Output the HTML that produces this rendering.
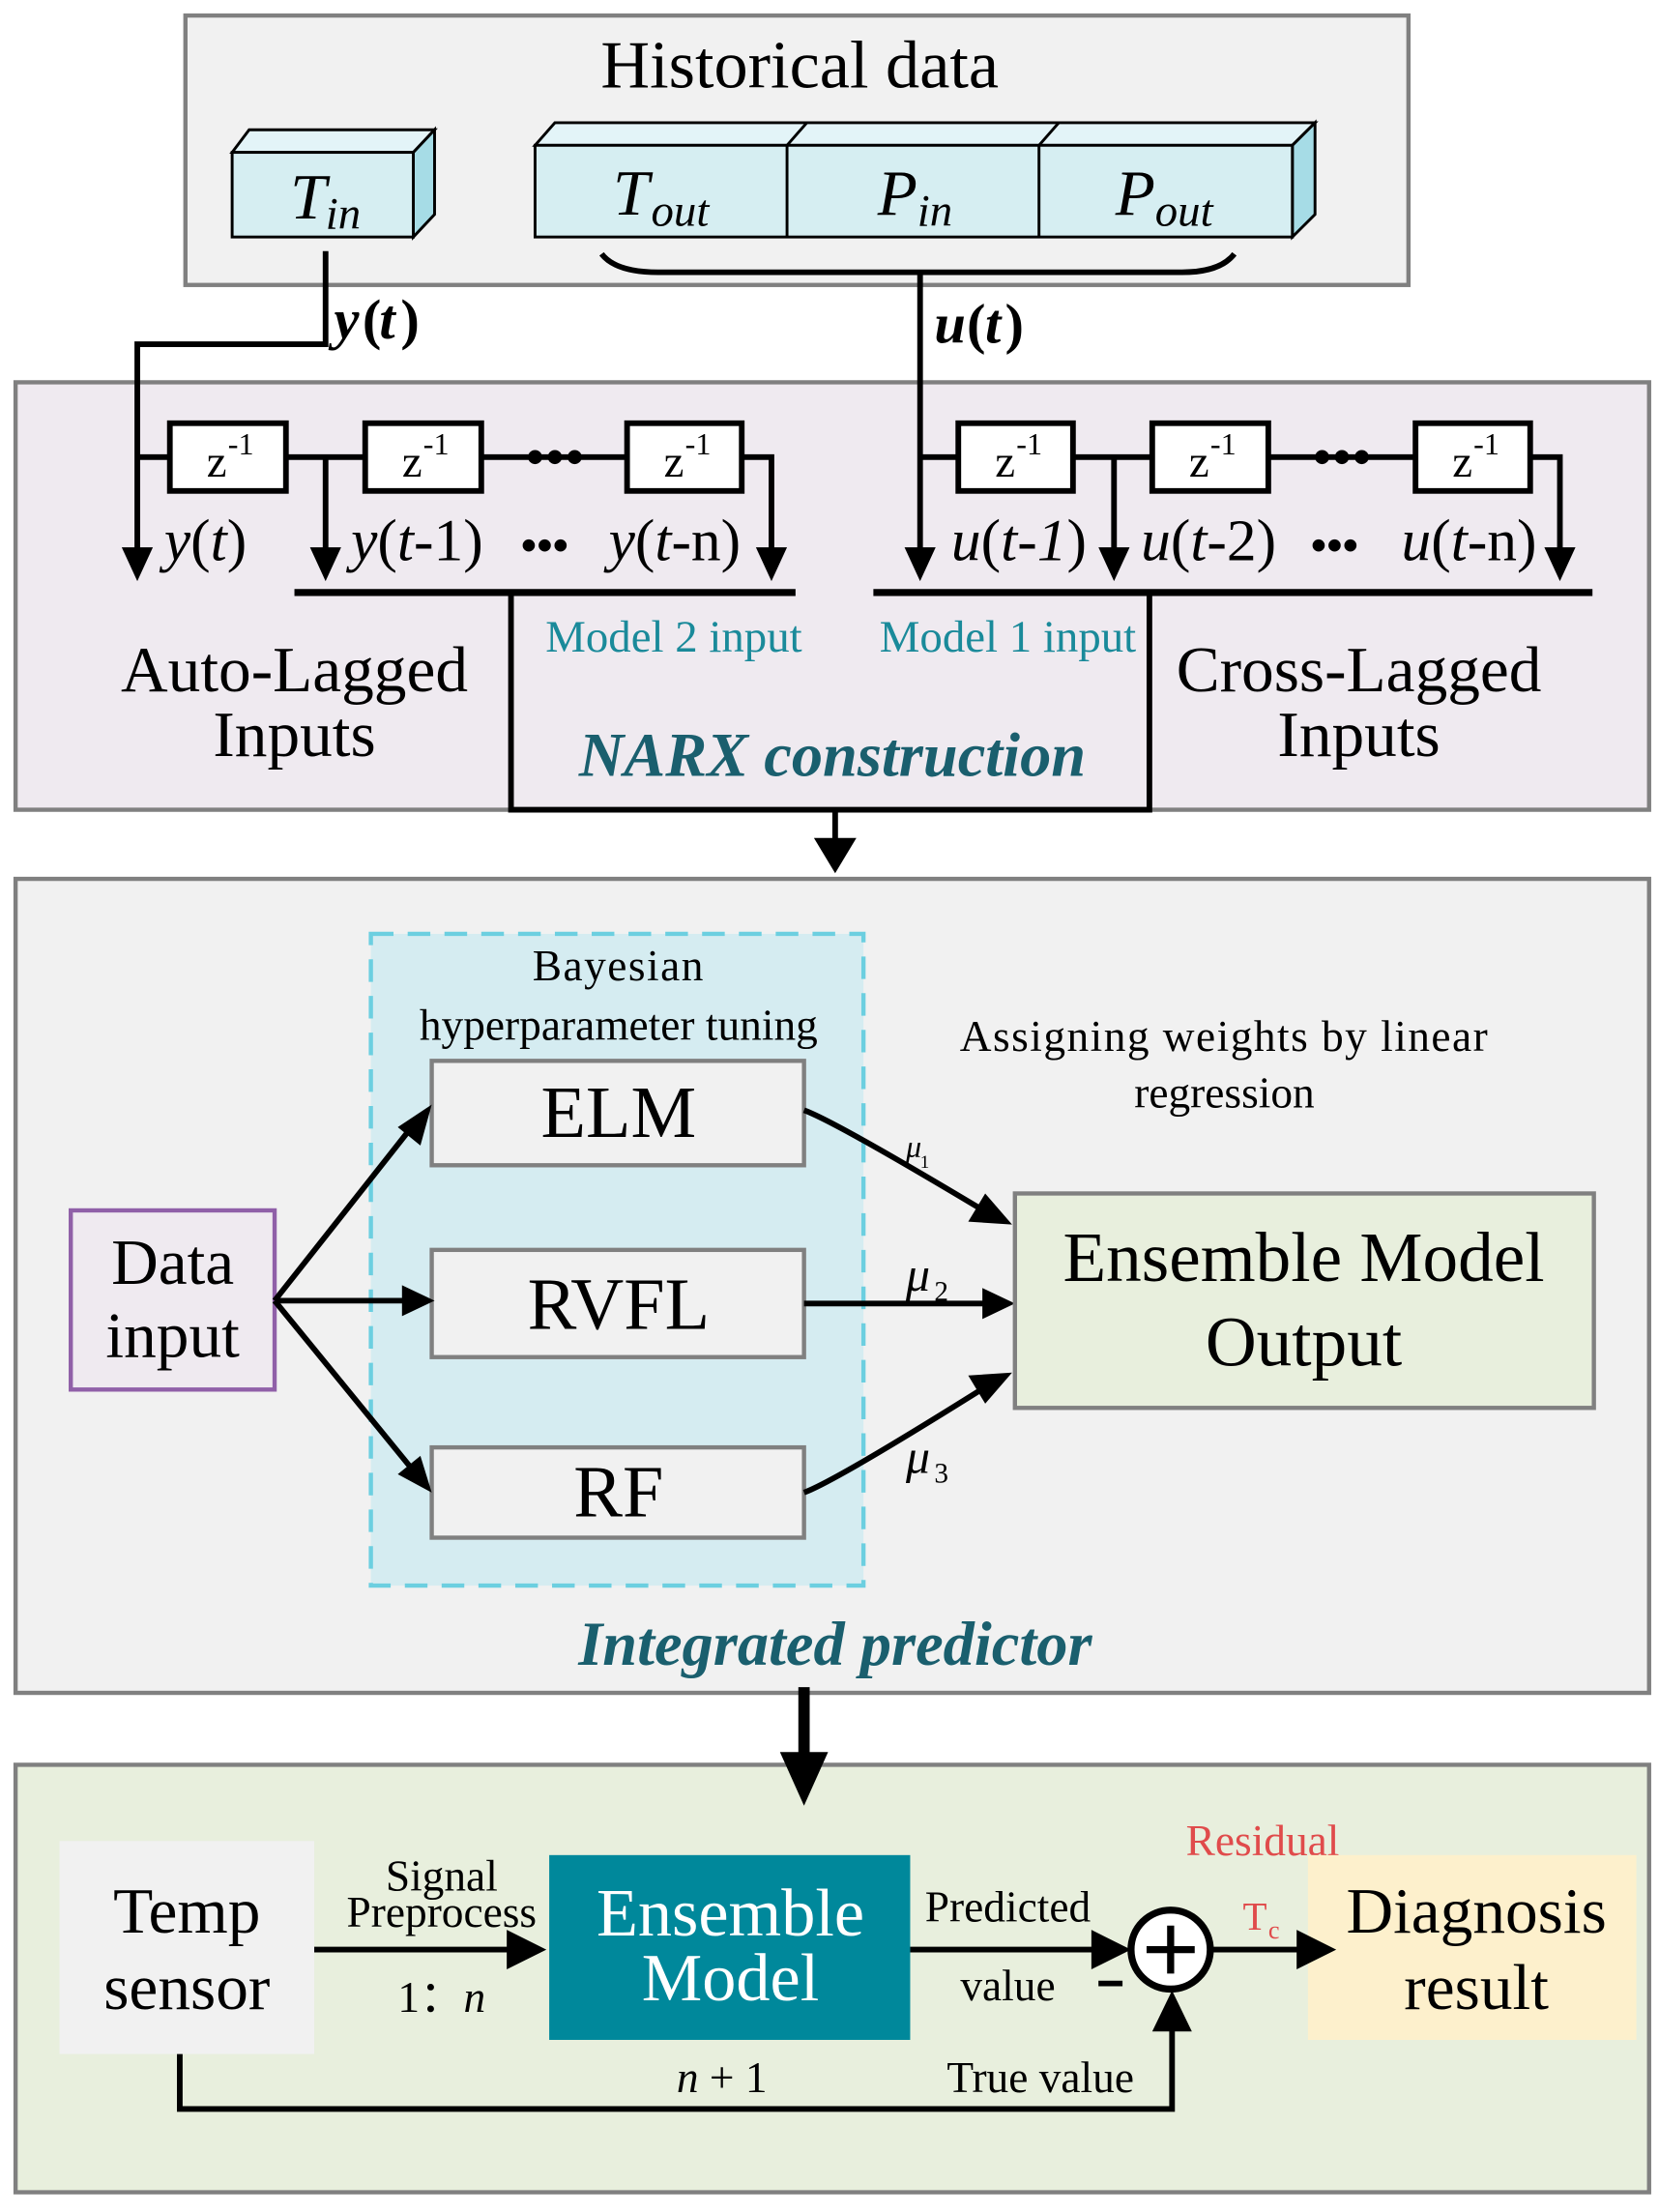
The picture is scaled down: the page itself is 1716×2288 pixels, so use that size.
<!DOCTYPE html>
<html><head><meta charset="utf-8">
<style>
html,body{margin:0;padding:0;background:#fff;}
svg{display:block;}
text{font-family:"Liberation Serif",serif;}
</style></head>
<body>
<svg width="1716" height="2288" viewBox="0 0 1172 1568" preserveAspectRatio="none" xmlns="http://www.w3.org/2000/svg">
<!-- Historical data -->
<rect x="131" y="11" width="864" height="191" fill="#f1f1f1" stroke="#808080" stroke-width="3"/>
<text x="565" y="62" font-size="48" text-anchor="middle">Historical data</text>
<polygon points="164,108 176,92 307,92 292,108" fill="#e3f4f8" stroke="#000" stroke-width="2"/>
<polygon points="292,108 307,92 307,152 292,168" fill="#a6dce6" stroke="#000" stroke-width="2"/>
<rect x="164" y="108" width="128" height="60" fill="#d6eef2" stroke="#000" stroke-width="2"/>
<text x="205" y="155" font-size="46" font-style="italic">T</text><text x="230" y="162" font-size="32" font-style="italic">in</text>
<polygon points="378,103 392,87 929,87 913,103" fill="#e3f4f8" stroke="#000" stroke-width="2"/>
<line x1="556" y1="103" x2="570" y2="87" stroke="#000" stroke-width="2"/>
<line x1="734" y1="103" x2="748" y2="87" stroke="#000" stroke-width="2"/>
<polygon points="913,103 929,87 929,152 913,168" fill="#a6dce6" stroke="#000" stroke-width="2"/>
<rect x="378" y="103" width="535" height="65" fill="#d6eef2" stroke="#000" stroke-width="2"/>
<line x1="556" y1="103" x2="556" y2="168" stroke="#000" stroke-width="2"/>
<line x1="734" y1="103" x2="734" y2="168" stroke="#000" stroke-width="2"/>
<text x="433" y="152" font-size="46" font-style="italic">T</text><text x="460" y="160" font-size="32" font-style="italic">out</text>
<text x="620" y="152" font-size="46" font-style="italic">P</text><text x="648" y="160" font-size="32" font-style="italic">in</text>
<text x="788" y="152" font-size="46" font-style="italic">P</text><text x="816" y="160" font-size="32" font-style="italic">out</text>
<path d="M425,180 Q435,193 465,193 L835,193 Q862,193 872,180" fill="none" stroke="#000" stroke-width="4"/>
<!-- NARX box -->
<rect x="11" y="271" width="1154" height="303" fill="#efeaf0" stroke="#808080" stroke-width="3"/>
<polyline points="230,178 230,244 97,244 97,395" fill="none" stroke="#000" stroke-width="4"/>
<polygon points="86,388 108,388 97,412" fill="#000"/>
<text x="236" y="240" font-size="40" font-weight="bold" font-style="italic">y</text><text x="256" y="240" font-size="40" font-weight="bold">(</text><text x="268" y="240" font-size="40" font-weight="bold" font-style="italic">t</text><text x="283" y="240" font-size="40" font-weight="bold">)</text>
<polyline points="650,193 650,395" fill="none" stroke="#000" stroke-width="4"/>
<polygon points="639,388 661,388 650,412" fill="#000"/>
<text x="660" y="243" font-size="40" font-weight="bold" font-style="italic">u</text><text x="683" y="243" font-size="40" font-weight="bold">(</text><text x="696" y="243" font-size="40" font-weight="bold" font-style="italic">t</text><text x="710" y="243" font-size="40" font-weight="bold">)</text>
<g stroke="#000" stroke-width="4" fill="none">
<line x1="97" y1="324" x2="120" y2="324"/><line x1="202" y1="324" x2="258" y2="324"/><line x1="340" y1="324" x2="443" y2="324"/>
<polyline points="524,324 545,324 545,395"/>
<line x1="230" y1="324" x2="230" y2="395"/>
<line x1="650" y1="324" x2="677" y2="324"/><line x1="758" y1="324" x2="814" y2="324"/><line x1="896" y1="324" x2="1000" y2="324"/>
<polyline points="1081,324 1102,324 1102,395"/>
<line x1="787" y1="324" x2="787" y2="395"/>
</g>
<g fill="#000">
<circle cx="378" cy="324" r="5"/><circle cx="392" cy="324" r="5"/><circle cx="406" cy="324" r="5"/>
<circle cx="934" cy="324" r="5"/><circle cx="948" cy="324" r="5"/><circle cx="962" cy="324" r="5"/>
<polygon points="219,388 241,388 230,412"/><polygon points="534,388 556,388 545,412"/>
<polygon points="776,388 798,388 787,412"/><polygon points="1091,388 1113,388 1102,412"/>
</g>
<g fill="#fff" stroke="#000" stroke-width="4">
<rect x="120" y="300" width="82" height="48"/><rect x="258" y="300" width="82" height="48"/><rect x="443" y="300" width="81" height="48"/>
<rect x="677" y="300" width="81" height="48"/><rect x="814" y="300" width="82" height="48"/><rect x="1000" y="300" width="81" height="48"/>
</g>
<g font-size="32">
<text x="146" y="338">z</text><text x="161" y="322" font-size="22">-1</text>
<text x="284" y="338">z</text><text x="299" y="322" font-size="22">-1</text>
<text x="469" y="338">z</text><text x="484" y="322" font-size="22">-1</text>
<text x="703" y="338">z</text><text x="718" y="322" font-size="22">-1</text>
<text x="840" y="338">z</text><text x="855" y="322" font-size="22">-1</text>
<text x="1026" y="338">z</text><text x="1041" y="322" font-size="22">-1</text>
</g>
<g font-size="42">
<text x="116" y="397"><tspan font-style="italic">y</tspan>(<tspan font-style="italic">t</tspan>)</text>
<text x="248" y="397"><tspan font-style="italic">y</tspan>(<tspan font-style="italic">t</tspan>-1)</text>
<text x="368" y="397" font-size="32" font-weight="bold">•••</text>
<text x="430" y="397"><tspan font-style="italic">y</tspan>(<tspan font-style="italic">t</tspan>-n)</text>
<text x="672" y="397"><tspan font-style="italic">u</tspan>(<tspan font-style="italic">t</tspan>-<tspan font-style="italic">1</tspan>)</text>
<text x="806" y="397"><tspan font-style="italic">u</tspan>(<tspan font-style="italic">t</tspan>-2)</text>
<text x="926" y="397" font-size="32" font-weight="bold">•••</text>
<text x="990" y="397"><tspan font-style="italic">u</tspan>(<tspan font-style="italic">t</tspan>-n)</text>
</g>
<line x1="208" y1="420" x2="562" y2="420" stroke="#000" stroke-width="5"/>
<line x1="617" y1="420" x2="1125" y2="420" stroke="#000" stroke-width="5"/>
<polyline points="361,420 361,574 812,574 812,420" fill="none" stroke="#000" stroke-width="4"/>
<line x1="590" y1="574" x2="590" y2="600" stroke="#000" stroke-width="4"/>
<polygon points="575,594 605,594 590,619" fill="#000"/>
<text x="476" y="462" font-size="32" fill="#1a8a9a" text-anchor="middle">Model 2 input</text>
<text x="712" y="462" font-size="32" fill="#1a8a9a" text-anchor="middle">Model 1 input</text>
<text x="208" y="490" font-size="46" text-anchor="middle">Auto-Lagged</text>
<text x="208" y="536" font-size="46" text-anchor="middle">Inputs</text>
<text x="960" y="490" font-size="46" text-anchor="middle">Cross-Lagged</text>
<text x="960" y="536" font-size="46" text-anchor="middle">Inputs</text>
<text x="588" y="550" font-size="44" font-weight="bold" font-style="italic" fill="#1a5f6e" text-anchor="middle">NARX  construction</text>
<!-- Integrated predictor -->
<rect x="11" y="623" width="1154" height="577" fill="#f1f1f1" stroke="#808080" stroke-width="3"/>
<rect x="262" y="662" width="348" height="462" fill="#d5ecf1" stroke="#6ccfe0" stroke-width="3" stroke-dasharray="16,10"/>
<text x="437" y="695" font-size="31" text-anchor="middle" letter-spacing="1">Bayesian</text>
<text x="437" y="737" font-size="31" text-anchor="middle">hyperparameter tuning</text>
<g fill="#f1f1f1" stroke="#808080" stroke-width="3">
<rect x="305" y="752" width="263" height="74"/><rect x="305" y="886" width="263" height="76"/><rect x="305" y="1026" width="263" height="64"/>
</g>
<text x="437" y="806" font-size="52" text-anchor="middle">ELM</text>
<text x="437" y="942" font-size="52" text-anchor="middle">RVFL</text>
<text x="437" y="1075" font-size="52" text-anchor="middle">RF</text>
<rect x="50" y="858" width="144" height="127" fill="#efeaf0" stroke="#9060a8" stroke-width="3"/>
<text x="122" y="910" font-size="46" text-anchor="middle">Data</text>
<text x="122" y="962" font-size="46" text-anchor="middle">input</text>
<g stroke="#000" stroke-width="4" fill="none">
<line x1="194" y1="922" x2="290" y2="800"/><line x1="194" y1="922" x2="288" y2="922"/><line x1="194" y1="922" x2="290" y2="1040"/>
<path d="M568,787 Q590,795 698,860"/><line x1="568" y1="924" x2="700" y2="924"/><path d="M568,1058 Q590,1050 698,982"/>
</g>
<g fill="#000">
<polygon points="305,783 297,812 281,799"/>
<polygon points="307,922 284,911 284,933"/>
<polygon points="305,1058 281,1045 297,1032"/>
<polygon points="715,868 684,866 696,846"/>
<polygon points="717,924 694,913 694,935"/>
<polygon points="715,973 696,995 684,975"/>
</g>
<rect x="717" y="846" width="409" height="152" fill="#e8efdd" stroke="#808080" stroke-width="3"/>
<text x="921" y="908" font-size="50" text-anchor="middle">Ensemble Model</text>
<text x="921" y="968" font-size="50" text-anchor="middle">Output</text>
<text x="640" y="820" font-size="22" font-style="italic">μ</text><text x="650" y="828" font-size="13">1</text>
<text x="640" y="915" font-size="34" font-style="italic">μ</text><text x="660" y="922" font-size="20">2</text>
<text x="640" y="1044" font-size="34" font-style="italic">μ</text><text x="660" y="1051" font-size="20">3</text>
<text x="865" y="745" font-size="31" text-anchor="middle" letter-spacing="1">Assigning weights by linear</text>
<text x="865" y="785" font-size="31" text-anchor="middle">regression</text>
<text x="590" y="1180" font-size="44" font-weight="bold" font-style="italic" fill="#1a5f6e" text-anchor="middle">Integrated predictor</text>
<!-- bottom -->
<rect x="11" y="1251" width="1154" height="303" fill="#e8efdd" stroke="#808080" stroke-width="3"/>
<line x1="568" y1="1196" x2="568" y2="1250" stroke="#000" stroke-width="8"/>
<polygon points="551,1242 585,1242 568,1280" fill="#000"/>
<rect x="42" y="1305" width="180" height="151" fill="#f1f1f1"/>
<text x="132" y="1370" font-size="46" text-anchor="middle">Temp</text>
<text x="132" y="1424" font-size="46" text-anchor="middle">sensor</text>
<line x1="222" y1="1382" x2="362" y2="1382" stroke="#000" stroke-width="4"/>
<polygon points="386,1382 358,1368 358,1396" fill="#000"/>
<text x="312" y="1340" font-size="31" text-anchor="middle">Signal</text>
<text x="312" y="1366" font-size="31" text-anchor="middle">Preprocess</text>
<text x="312" y="1426" font-size="31" text-anchor="middle">1：<tspan font-style="italic">n</tspan></text>
<rect x="388" y="1315" width="255" height="131" fill="#00889b"/>
<text x="516" y="1372" font-size="48" fill="#fff" text-anchor="middle">Ensemble</text>
<text x="516" y="1418" font-size="48" fill="#fff" text-anchor="middle">Model</text>
<line x1="643" y1="1382" x2="775" y2="1382" stroke="#000" stroke-width="4"/>
<polygon points="799,1382 771,1368 771,1396" fill="#000"/>
<text x="712" y="1362" font-size="31" text-anchor="middle">Predicted</text>
<text x="712" y="1418" font-size="31" text-anchor="middle">value</text>
<line x1="776" y1="1406" x2="793" y2="1406" stroke="#000" stroke-width="4"/>
<circle cx="827" cy="1382" r="28" fill="#fff" stroke="#000" stroke-width="5"/>
<line x1="810" y1="1382" x2="844" y2="1382" stroke="#000" stroke-width="5"/>
<line x1="827" y1="1365" x2="827" y2="1399" stroke="#000" stroke-width="5"/>
<text x="892" y="1315" font-size="31" fill="#e04b4b" text-anchor="middle">Residual</text>
<rect x="924" y="1315" width="232" height="131" fill="#fdf0cc"/>
<text x="878" y="1368" font-size="28" fill="#e04b4b">T</text><text x="896" y="1374" font-size="18" fill="#e04b4b">c</text>
<line x1="855" y1="1382" x2="920" y2="1382" stroke="#000" stroke-width="4"/>
<polygon points="944,1382 916,1368 916,1396" fill="#000"/>
<text x="1043" y="1370" font-size="46" text-anchor="middle">Diagnosis</text>
<text x="1043" y="1424" font-size="46" text-anchor="middle">result</text>
<polyline points="127,1456 127,1495 828,1495 828,1435" fill="none" stroke="#000" stroke-width="4"/>
<polygon points="828,1411 814,1440 842,1440" fill="#000"/>
<text x="510" y="1483" font-size="31" text-anchor="middle"><tspan font-style="italic">n</tspan> + 1</text>
<text x="735" y="1483" font-size="31" text-anchor="middle">True value</text>
</svg>
</body></html>
